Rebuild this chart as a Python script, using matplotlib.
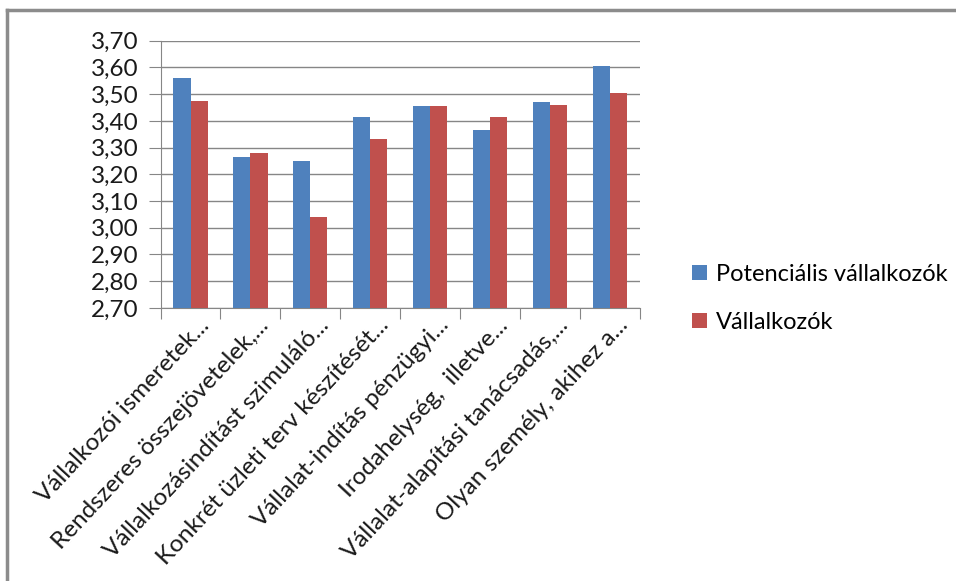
import numpy as np
import matplotlib
matplotlib.use("Agg")
import matplotlib.pyplot as plt
from matplotlib.lines import Line2D

categories = ["Vállalkozói ismeretek...",
              "Rendszeres összejövetelek,...",
              "Vállalkozásindítást szimuláló...",
              "Konkrét üzleti terv készítését...",
              "Vállalat-indítás pénzügyi...",
              "Irodahelység,  illetve...",
              "Vállalat-alapítási tanácsadás,...",
              "Olyan személy, akihez a..."]
potencialis = [3.56, 3.266, 3.251, 3.414, 3.456, 3.367, 3.471, 3.605]
vallalkozok = [3.476, 3.280, 3.040, 3.333, 3.456, 3.414, 3.461, 3.503]
series_names = ["Potenciális vállalkozók", "Vállalkozók"]
yticks = [2.7, 2.8, 2.9, 3.0, 3.1, 3.2, 3.3, 3.4, 3.5, 3.6, 3.7]

plt.rcParams['font.family'] = ['Lato', 'DejaVu Sans']

fig = plt.figure(figsize=(9.56, 5.81), dpi=100)
ax = fig.add_axes([0.168, 0.470, 0.501, 0.460])

x = np.arange(len(categories))
w = 0.286
ax.bar(x - w/2, potencialis, w, color='#4F81BD', label=series_names[0], zorder=3)
ax.bar(x + w/2, vallalkozok, w, color='#C0504D', label=series_names[1], zorder=3)

ax.set_xlim(-0.5, len(categories) - 0.5)
ax.set_ylim(2.7, 3.7)
ax.set_yticks(yticks)
ax.set_yticklabels([f"{v:.2f}".replace('.', ',') for v in yticks])
ax.yaxis.grid(True, color='#868686', linewidth=1, zorder=0)

ax.set_xticks(np.arange(len(categories) + 1) - 0.5, minor=False)
ax.set_xticklabels([])
for i, c in enumerate(categories):
    ax.text(i + 0.12, 2.675, c, rotation=47, ha='right', va='top',
            rotation_mode='anchor', fontsize=17.5, color='#1a1a1a')

for s in ['top', 'right']:
    ax.spines[s].set_visible(False)
for s in ['left', 'bottom']:
    ax.spines[s].set_color('#868686')
ax.tick_params(axis='y', length=9, color='#868686', labelsize=17.5, labelcolor='#1a1a1a', pad=7)
ax.tick_params(axis='x', length=8, color='#868686')

ax.legend(loc='center left', bbox_to_anchor=(0.702, 0.486), bbox_transform=fig.transFigure,
          frameon=False, fontsize=17, handlelength=0.6, handleheight=0.6,
          handletextpad=0.4, labelspacing=1.15)

# chart border
fig.add_artist(Line2D([0.0075, 0.0075], [0, 0.982], color='#8c8c8c', lw=2.5, transform=fig.transFigure))
fig.add_artist(Line2D([0.0075, 1], [0.982, 0.982], color='#8c8c8c', lw=2.5, transform=fig.transFigure))

fig.savefig("out.png", dpi=100)
